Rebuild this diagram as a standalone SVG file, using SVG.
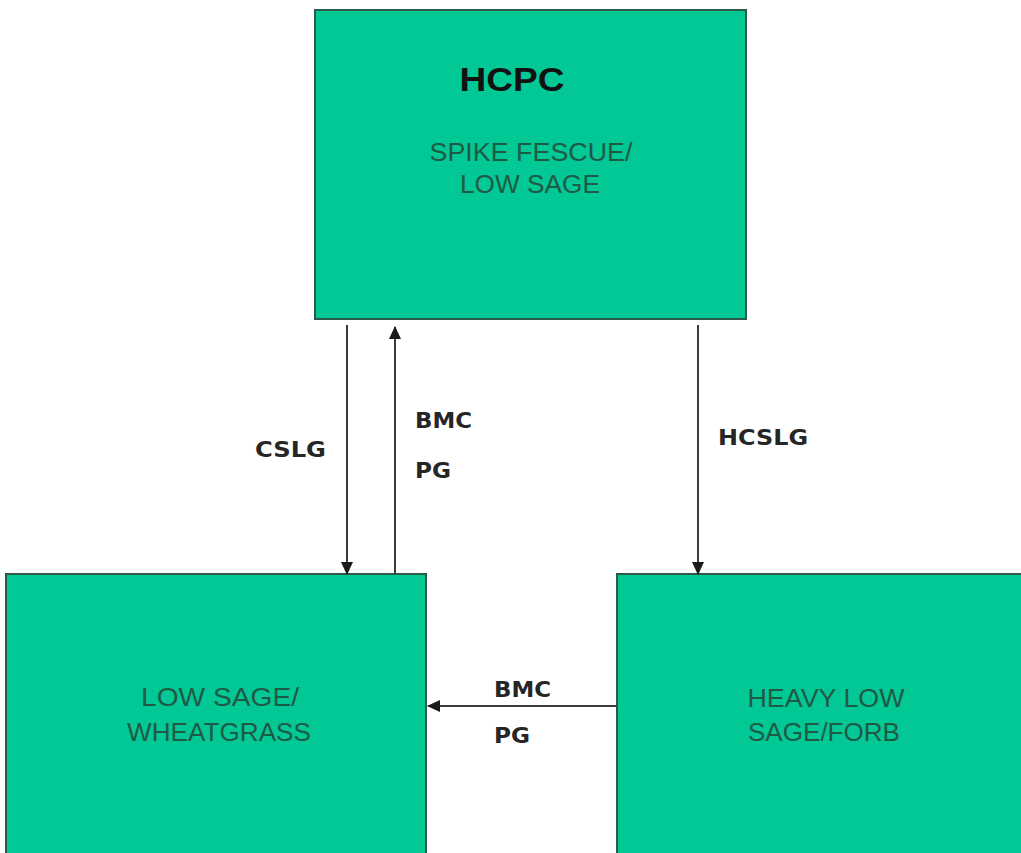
<svg xmlns="http://www.w3.org/2000/svg" width="1021" height="853" viewBox="0 0 1021 853">
<style>
.box{fill:#02c896;stroke:#2b5a4a;stroke-width:2}
.in{font-family:"Liberation Sans",Arial,sans-serif;font-size:25px;fill:#1f5a44;text-anchor:middle}
.lbl{font-family:"DejaVu Sans",Verdana,sans-serif;font-weight:bold;font-size:22px;fill:#262626}
.conn{stroke:#3a3a3a;stroke-width:2;fill:none;marker-end:url(#ah)}
</style>
<defs>
<marker id="ah" markerWidth="14" markerHeight="14" refX="12" refY="6" orient="auto" markerUnits="userSpaceOnUse">
<path d="M0,0 L13,6 L0,12 Z" fill="#1a1a1a"/>
</marker>
</defs>
<rect width="1021" height="853" fill="#ffffff"/>
<g id="hcpc">
<rect class="box" x="315" y="10" width="431" height="309"/>
<text x="512" y="91" font-family="Liberation Sans,Arial,sans-serif" font-weight="bold" font-size="33" fill="#111" text-anchor="middle" textLength="105" lengthAdjust="spacingAndGlyphs">HCPC</text>
<text class="in" x="531" y="161" textLength="203" lengthAdjust="spacingAndGlyphs">SPIKE FESCUE/</text>
<text class="in" x="530" y="193" textLength="140" lengthAdjust="spacingAndGlyphs">LOW SAGE</text>
</g>
<g id="lowsage">
<rect class="box" x="6" y="574" width="420" height="290"/>
<text class="in" x="220" y="706" textLength="158" lengthAdjust="spacingAndGlyphs">LOW SAGE/</text>
<text class="in" x="219" y="741" textLength="184" lengthAdjust="spacingAndGlyphs">WHEATGRASS</text>
</g>
<g id="heavy">
<rect class="box" x="617" y="574" width="420" height="290"/>
<text class="in" x="826" y="707" textLength="157" lengthAdjust="spacingAndGlyphs">HEAVY LOW</text>
<text class="in" x="824" y="741" textLength="152" lengthAdjust="spacingAndGlyphs">SAGE/FORB</text>
</g>
<g id="connectors">
<line class="conn" x1="347" y1="325" x2="347" y2="574"/>
<line class="conn" x1="395" y1="574" x2="395" y2="327"/>
<line class="conn" x1="698" y1="325" x2="698" y2="574"/>
<line class="conn" x1="617" y1="706" x2="428" y2="706"/>
<text class="lbl" x="255" y="457" textLength="71" lengthAdjust="spacingAndGlyphs">CSLG</text>
<text class="lbl" x="415" y="428" textLength="57" lengthAdjust="spacingAndGlyphs">BMC</text>
<text class="lbl" x="415" y="478" textLength="36" lengthAdjust="spacingAndGlyphs">PG</text>
<text class="lbl" x="718" y="445" textLength="90" lengthAdjust="spacingAndGlyphs">HCSLG</text>
<text class="lbl" x="494" y="697" textLength="57" lengthAdjust="spacingAndGlyphs">BMC</text>
<text class="lbl" x="494" y="743" textLength="36" lengthAdjust="spacingAndGlyphs">PG</text>
</g>
</svg>
